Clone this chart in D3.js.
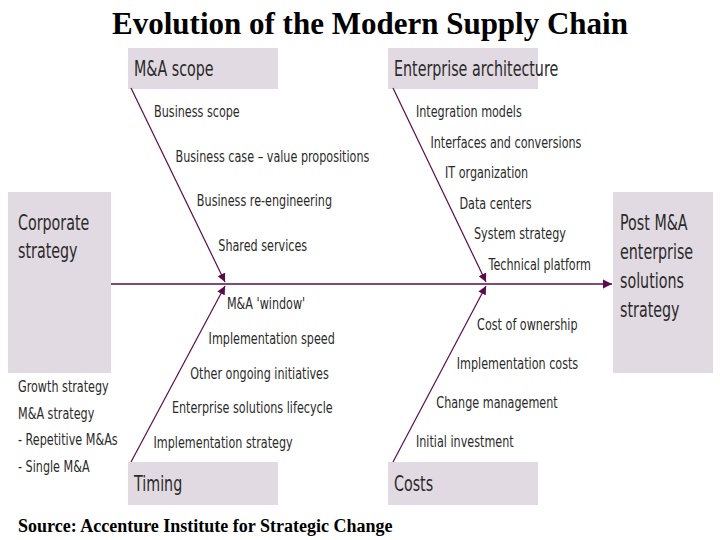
<!DOCTYPE html>
<html>
<head>
<meta charset="utf-8">
<script src="https://cdn.jsdelivr.net/npm/d3@7"></script>
<style>
  body { margin: 0; background: #fff; }
  .lbl { font-family: "DejaVu Sans", sans-serif; fill: #2a2a2a; }
</style>
</head>
<body>
<svg id="chart" width="720" height="540"></svg>
<script>
// categories (boxes) and their causes
const boxTitles = ["M&A scope", "Enterprise architecture", "Timing", "Costs"];
const scopeItems = ["Business scope", "Business case \u2013 value propositions", "Business re-engineering", "Shared services"];
const archItems = ["Integration models", "Interfaces and conversions", "IT organization", "Data centers", "System strategy", "Technical platform"];
const timingItems = ["M&A 'window'", "Implementation speed", "Other ongoing initiatives", "Enterprise solutions lifecycle", "Implementation strategy"];
const costItems = ["Cost of ownership", "Implementation costs", "Change management", "Initial investment"];
const leftTitle = ["Corporate", "strategy"];
const rightTitle = ["Post M&A", "enterprise", "solutions", "strategy"];
const leftNotes = ["Growth strategy", "M&A strategy", "-  Repetitive M&As", "-  Single M&A"];

const svg = d3.select("#chart");
const lineCol = "#5a0c4c", boxCol = "#e2dae2";
const spineY = 284;

// narrow text, like the condensed face of the original
function label(x, y, size, t, sx = 0.7) {
  return svg.append("text").attr("class", "lbl")
    .attr("transform", `translate(${x},${y}) scale(${sx},1)`)
    .attr("font-size", size).text(t);
}

svg.append("defs").append("marker")
  .attr("id", "arr").attr("viewBox", "0 0 10 10").attr("refX", 10).attr("refY", 5)
  .attr("markerWidth", 7).attr("markerHeight", 7).attr("orient", "auto")
  .append("path").attr("d", "M0,0L10,5L0,10z").attr("fill", lineCol);

svg.append("text").attr("x", 370).attr("y", 34).attr("text-anchor", "middle")
  .attr("font-family", "Liberation Serif, serif").attr("font-weight", "bold").attr("font-size", 31)
  .text("Evolution of the Modern Supply Chain");

// boxes
const boxes = [
  { x: 128, y: 48, w: 150, h: 41, t: boxTitles[0] },
  { x: 388, y: 48, w: 150, h: 41, t: boxTitles[1] },
  { x: 128, y: 462, w: 150, h: 43, t: boxTitles[2] },
  { x: 388, y: 462, w: 150, h: 43, t: boxTitles[3] }
];
boxes.forEach(b => {
  svg.append("rect").attr("x", b.x).attr("y", b.y).attr("width", b.w).attr("height", b.h).attr("fill", boxCol);
  label(b.x + 6, b.y + b.h / 2 + 7, 21, b.t, 0.68);
});
svg.append("rect").attr("x", 8).attr("y", 192).attr("width", 103).attr("height", 181).attr("fill", boxCol);
svg.append("rect").attr("x", 613).attr("y", 192).attr("width", 100).attr("height", 181).attr("fill", boxCol);
leftTitle.forEach((t, i) => label(18, 230 + i * 28, 21, t, 0.68));
rightTitle.forEach((t, i) => label(620, 230 + i * 29, 21, t, 0.68));
leftNotes.forEach((t, i) => label(18, 392 + i * 26.5, 16, t));

// spine
svg.append("line").attr("x1", 111).attr("y1", spineY).attr("x2", 612).attr("y2", spineY)
  .attr("stroke", lineCol).attr("stroke-width", 1.3).attr("marker-end", "url(#arr)");

// bones
const bones = [
  { x0: 131, y0: 88, x1: 225, items: scopeItems, yr: [111, 245] },
  { x0: 393, y0: 88, x1: 486, items: archItems, yr: [111, 264] },
  { x0: 131, y0: 462, x1: 225, items: timingItems, yr: [303, 442] },
  { x0: 393, y0: 462, x1: 486, items: costItems, yr: [324, 441] }
];
bones.forEach(b => {
  svg.append("line").attr("x1", b.x0).attr("y1", b.y0).attr("x2", b.x1).attr("y2", b.y0 < spineY ? spineY - 2 : spineY + 2)
    .attr("stroke", lineCol).attr("stroke-width", 1.2).attr("marker-end", "url(#arr)");
  const yScale = d3.scalePoint().domain(b.items).range(b.yr);
  const xAt = d3.scaleLinear().domain([b.y0, spineY]).range([b.x0, b.x1]);
  b.items.forEach(t => {
    const y = yScale(t);
    label(xAt(y) + 12, y + 6, 16, t);
  });
});

svg.append("text").attr("x", 18).attr("y", 532).attr("font-family", "Liberation Serif, serif")
  .attr("font-weight", "bold").attr("font-size", 18).text("Source: Accenture Institute for Strategic Change");
</script>
</body>
</html>
